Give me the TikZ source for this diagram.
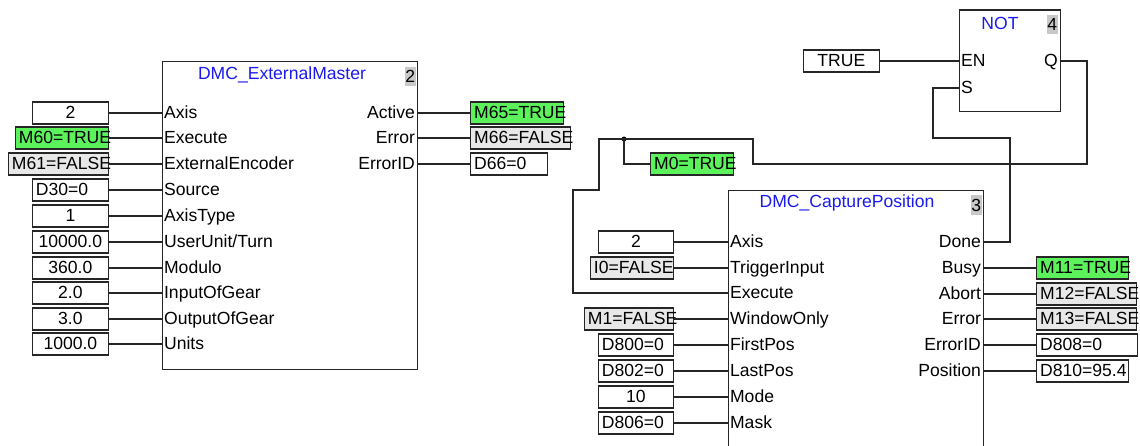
\documentclass[tikz,border=0pt]{standalone}
\usepackage{fontspec}
\setmainfont{Liberation Sans}
\usetikzlibrary{positioning}
\definecolor{plcGreen}{HTML}{5CF25C}
\definecolor{plcGray}{HTML}{E8E8E8}
\definecolor{plcBlue}{HTML}{1A1AF0}
\definecolor{plcNum}{HTML}{C8C8C8}
\colorlet{plcLine}{black!85}

\begin{document}
\begin{tikzpicture}[x=0.02cm, y=-0.02cm,
  font=\fontsize{10}{12}\selectfont,
  fblock/.style={draw=plcLine, line width=0.7pt, fill=white, anchor=north west, inner sep=0pt},
  ftitle/.style={text=plcBlue, inner sep=0pt},
  fnum/.style={fill=plcNum, anchor=north east, minimum width=0.22cm, minimum height=0.38cm, inner sep=0pt},
  pinin/.style={anchor=west, inner xsep=1pt, inner ysep=0pt, text height=1.5ex, text depth=0.3ex},
  pinout/.style={anchor=east, inner xsep=1pt, inner ysep=0pt, text height=1.5ex, text depth=0.3ex},
  cval/.style={draw=plcLine, line width=0.7pt, fill=white, minimum width=#1, minimum height=0.44cm,
               inner sep=1pt, text height=1.5ex, text depth=0.3ex},
  vval/.style={draw=plcLine, line width=0.7pt, fill=white, text width=#1, minimum height=0.44cm,
               inner xsep=2pt, inner ysep=1pt, align=left, text height=1.5ex, text depth=0.3ex},
  onval/.style={fill=plcGreen},
  offval/.style={fill=plcGray},
  wire/.style={draw=plcLine, line width=0.7pt},
]
\useasboundingbox (0,0) rectangle (1140,446);
\clip (0,0) rectangle (1140,446);

% --- DMC_ExternalMaster ---
\node[fblock, minimum width=5.1cm, minimum height=6.16cm] (ext) at (162,61) {};
\node[ftitle] (extT) at (282,75) {DMC\_ExternalMaster};
\node[fnum] (extN) at (416,67) {2};

\node[pinin] (eAxis) at (162,113) {Axis};
\node[pinin] (eExe) at (162,138) {Execute};
\node[pinin] (eEnc) at (162,164) {ExternalEncoder};
\node[pinin] (eSrc) at (162,190) {Source};
\node[pinin] (eTyp) at (162,216) {AxisType};
\node[pinin] (eUnT) at (162,242) {UserUnit/Turn};
\node[pinin] (eMod) at (162,268) {Modulo};
\node[pinin] (eInG) at (162,293) {InputOfGear};
\node[pinin] (eOuG) at (162,319) {OutputOfGear};
\node[pinin] (eUni) at (162,344) {Units};

\node[cval=1.52cm, anchor=east] (eAxisV) at (109,113) {2};
\node[vval=1.72cm, onval, anchor=east] (eExeV) at (109,138) {M60=TRUE};
\node[vval=1.86cm, offval, anchor=east] (eEncV) at (109,164) {M61=FALSE};
\node[vval=1.38cm, anchor=east] (eSrcV) at (109,190) {D30=0};
\node[cval=1.52cm, anchor=east] (eTypV) at (109,216) {1};
\node[cval=1.52cm, anchor=east] (eUnTV) at (109,242) {10000.0};
\node[cval=1.52cm, anchor=east] (eModV) at (109,268) {360.0};
\node[cval=1.52cm, anchor=east] (eInGV) at (109,293) {2.0};
\node[cval=1.52cm, anchor=east] (eOuGV) at (109,319) {3.0};
\node[cval=1.52cm, anchor=east] (eUniV) at (109,344) {1000.0};

\draw[wire] (eAxisV.east) -- (eAxis.west);
\draw[wire] (eExeV.east) -- (eExe.west);
\draw[wire] (eEncV.east) -- (eEnc.west);
\draw[wire] (eSrcV.east) -- (eSrc.west);
\draw[wire] (eTypV.east) -- (eTyp.west);
\draw[wire] (eUnTV.east) -- (eUnT.west);
\draw[wire] (eModV.east) -- (eMod.west);
\draw[wire] (eInGV.east) -- (eInG.west);
\draw[wire] (eOuGV.east) -- (eOuG.west);
\draw[wire] (eUniV.east) -- (eUni.west);

\node[pinout] (eAct) at (417,113) {Active};
\node[pinout] (eErr) at (417,138) {Error};
\node[pinout] (eEid) at (417,164) {ErrorID};

\node[vval=1.72cm, onval, anchor=west] (eActV) at (470,113) {M65=TRUE};
\node[vval=1.86cm, offval, anchor=west] (eErrV) at (470,138) {M66=FALSE};
\node[vval=1.40cm, anchor=west] (eEidV) at (470,164) {D66=0};

\draw[wire] (eAct.east) -- (eActV.west);
\draw[wire] (eErr.east) -- (eErrV.west);
\draw[wire] (eEid.east) -- (eEidV.west);

% --- DMC_CapturePosition ---
\node[fblock, minimum width=5.1cm, minimum height=5.6cm] (cap) at (728,190) {};
\node[ftitle] (capT) at (847,203) {DMC\_CapturePosition};
\node[fnum, minimum height=0.4cm] (capN) at (982,195) {3};

\node[pinin] (cAxis) at (728,242) {Axis};
\node[pinin] (cTrg) at (728,268) {TriggerInput};
\node[pinin] (cExe) at (728,293) {Execute};
\node[pinin] (cWin) at (728,319) {WindowOnly};
\node[pinin] (cFst) at (728,345) {FirstPos};
\node[pinin] (cLst) at (728,371) {LastPos};
\node[pinin] (cMod) at (728,397) {Mode};
\node[pinin] (cMsk) at (728,423) {Mask};

\node[cval=1.5cm, anchor=east] (cAxisV) at (674,242) {2};
\node[vval=1.52cm, offval, anchor=east] (cTrgV) at (674,268) {I0=FALSE};
\node[vval=1.64cm, offval, anchor=east] (cWinV) at (674,319) {M1=FALSE};
\node[vval=1.36cm, anchor=east] (cFstV) at (674,345) {D800=0};
\node[vval=1.36cm, anchor=east] (cLstV) at (674,371) {D802=0};
\node[cval=1.5cm, anchor=east] (cModV) at (674,397) {10};
\node[vval=1.36cm, anchor=east] (cMskV) at (674,423) {D806=0};

\draw[wire] (cAxisV.east) -- (cAxis.west);
\draw[wire] (cTrgV.east) -- (cTrg.west);
\draw[wire] (cWinV.east) -- (cWin.west);
\draw[wire] (cFstV.east) -- (cFst.west);
\draw[wire] (cLstV.east) -- (cLst.west);
\draw[wire] (cModV.east) -- (cMod.west);
\draw[wire] (cMskV.east) -- (cMsk.west);

\node[pinout] (cDone) at (983,242) {Done};
\node[pinout] (cBusy) at (983,268) {Busy};
\node[pinout] (cAbt) at (983,294) {Abort};
\node[pinout] (cErr) at (983,319) {Error};
\node[pinout] (cEid) at (983,345) {ErrorID};
\node[pinout] (cPos) at (983,371) {Position};

\node[vval=1.70cm, onval, anchor=west] (cBusyV) at (1036,268) {M11=TRUE};
\node[vval=1.86cm, offval, anchor=west] (cAbtV) at (1036,294) {M12=FALSE};
\node[vval=1.86cm, offval, anchor=west] (cErrV) at (1036,319) {M13=FALSE};
\node[vval=1.88cm, anchor=west] (cEidV) at (1036,345) {D808=0};
\node[vval=1.70cm, anchor=west] (cPosV) at (1036,371) {D810=95.4};

\draw[wire] (cBusy.east) -- (cBusyV.west);
\draw[wire] (cAbt.east) -- (cAbtV.west);
\draw[wire] (cErr.east) -- (cErrV.west);
\draw[wire] (cEid.east) -- (cEidV.west);
\draw[wire] (cPos.east) -- (cPosV.west);

% --- NOT ---
\node[fblock, minimum width=2.02cm, minimum height=2.03cm] (nt) at (959,9.5) {};
\node[ftitle] (ntT) at (1000,23) {NOT};
\node[fnum] (ntN) at (1058,15) {4};
\node[pinin] (nEN) at (959,61) {EN};
\node[pinin] (nS) at (959,88) {S};
\node[pinout] (nQ) at (1060,61) {Q};

\node[cval=1.52cm, anchor=east] (trueV) at (880,61) {TRUE};
\draw[wire] (trueV.east) -- (nEN.west);

% feedback: Done -> S, Q -> Execute
\node[circle, fill=black, inner sep=0pt, minimum size=0.1cm] (jn) at (624,139) {};
\node[vval=1.52cm, onval, anchor=west] (m0V) at (650,164) {M0=TRUE};

\draw[wire] (cDone.east) -- ++(27,0) |- ++(-77,-104) |- (nS.west);
\draw[wire] (nQ.east) -- ++(27,0) -- ++(0,103) -| ++(-334,-25) -- (jn.center)
  -- ++(-25,0) |- ++(-26,51) |- (cExe.west);
\draw[wire] (jn.center) |- (m0V.west);
\end{tikzpicture}
\end{document}
